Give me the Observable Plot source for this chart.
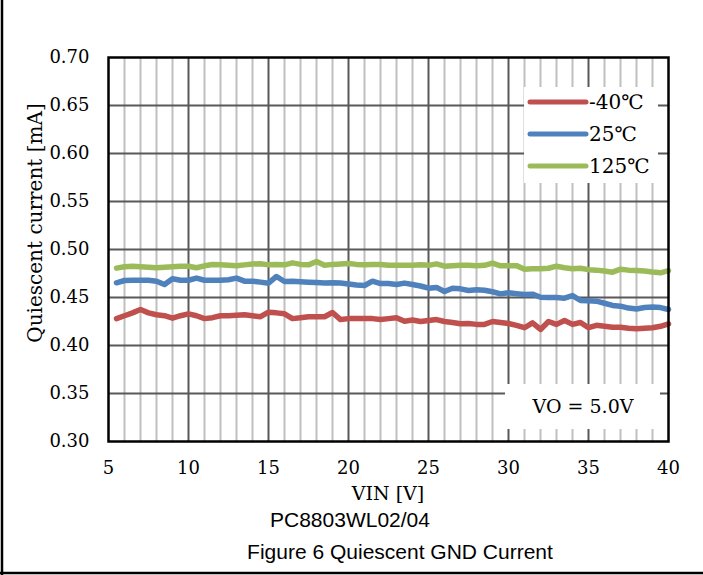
<!DOCTYPE html>
<html>
<head>
<meta charset="utf-8">
<script src="https://cdn.jsdelivr.net/npm/d3@7"></script>
<script src="https://cdn.jsdelivr.net/npm/@observablehq/plot@0.6"></script>
<style>
  html, body { margin: 0; padding: 0; background: #fff; }
  #chart svg { display: block; }
</style>
</head>
<body>
<div id="chart"></div>
<script>
// Input voltage sweep [V]
const vin = [
  5.5, 6, 6.5, 7, 7.5, 8, 8.5, 9, 9.5, 10,
  10.5, 11, 11.5, 12, 12.5, 13, 13.5, 14, 14.5, 15,
  15.5, 16, 16.5, 17, 17.5, 18, 18.5, 19, 19.5, 20,
  20.5, 21, 21.5, 22, 22.5, 23, 23.5, 24, 24.5, 25,
  25.5, 26, 26.5, 27, 27.5, 28, 28.5, 29, 29.5, 30,
  30.5, 31, 31.5, 32, 32.5, 33, 33.5, 34, 34.5, 35,
  35.5, 36, 36.5, 37, 37.5, 38, 38.5, 39, 39.5, 40
];

// Quiescent GND current [mA] at each temperature
const iqCold = [
  0.428, 0.431, 0.434, 0.4375, 0.434, 0.432, 0.431, 0.4285, 0.431, 0.433,
  0.431, 0.428, 0.429, 0.431, 0.431, 0.4315, 0.432, 0.431, 0.430, 0.4347,
  0.434, 0.433, 0.428, 0.429, 0.430, 0.430, 0.430, 0.4344, 0.427, 0.428,
  0.428, 0.428, 0.428, 0.427, 0.428, 0.429, 0.4253, 0.4265, 0.425, 0.426,
  0.427, 0.425, 0.424, 0.4226, 0.423, 0.422, 0.422, 0.425, 0.424, 0.423,
  0.421, 0.4185, 0.4236, 0.4167, 0.425, 0.422, 0.426, 0.422, 0.424, 0.4185,
  0.421, 0.420, 0.419, 0.419, 0.418, 0.4175, 0.418, 0.4185, 0.420, 0.4226
];
const iqRoom = [
  0.4653, 0.4677, 0.468, 0.468, 0.468, 0.467, 0.4635, 0.4695, 0.468, 0.468,
  0.4702, 0.468, 0.468, 0.468, 0.4685, 0.4702, 0.467, 0.467, 0.466, 0.4649,
  0.4719, 0.4667, 0.467, 0.4665, 0.466, 0.4655, 0.465, 0.4653, 0.465, 0.464,
  0.463, 0.4625, 0.467, 0.4645, 0.4645, 0.4635, 0.465, 0.4635, 0.462, 0.4597,
  0.4605, 0.4562, 0.4597, 0.459, 0.4573, 0.458, 0.4575, 0.456, 0.4538, 0.455,
  0.454, 0.4531, 0.4535, 0.4503, 0.450, 0.450, 0.4493, 0.452, 0.4469, 0.4465,
  0.4462, 0.444, 0.4417, 0.441, 0.439, 0.438, 0.4395, 0.440, 0.4395, 0.4375
];
const iqHot = [
  0.4806, 0.482, 0.4826, 0.482, 0.4815, 0.481, 0.4815, 0.482, 0.4826, 0.4826,
  0.481, 0.483, 0.4844, 0.484, 0.4835, 0.483, 0.484, 0.485, 0.4851, 0.484,
  0.4845, 0.484, 0.4861, 0.4845, 0.484, 0.4875, 0.4835, 0.4845, 0.485, 0.4855,
  0.4845, 0.484, 0.4845, 0.4844, 0.4835, 0.4835, 0.4835, 0.4835, 0.484, 0.4835,
  0.485, 0.4826, 0.483, 0.4835, 0.4835, 0.483, 0.4835, 0.4858, 0.483, 0.483,
  0.4832, 0.4795, 0.480, 0.480, 0.4805, 0.4826, 0.481, 0.480, 0.4805, 0.479,
  0.4785, 0.4775, 0.4764, 0.4795, 0.4785, 0.478, 0.4775, 0.4765, 0.4757, 0.478
];

const seriesNames = ["-40℃", "25℃", "125℃"];
const seriesColors = ["#C0504D", "#4F81BD", "#9BBB59"];
const seriesValues = [iqCold, iqRoom, iqHot];

// Axis ticks and gridlines
const xTicks = [5, 10, 15, 20, 25, 30, 35, 40];
const xMajorGrid = [10, 15, 20, 25, 30, 35];
const xMinorGrid = [6, 7, 8, 9, 11, 12, 13, 14, 16, 17, 18, 19, 21, 22, 23, 24,
                    26, 27, 28, 29, 31, 32, 33, 34, 36, 37, 38, 39];
const yTicks = [0.30, 0.35, 0.40, 0.45, 0.50, 0.55, 0.60, 0.65, 0.70];
const yMajorGrid = [0.35, 0.40, 0.45, 0.50, 0.55, 0.60, 0.65];

const xLabel = "VIN [V]";
const yLabel = "Quiescent current [mA]";
const note = "VO = 5.0V";
const partLabel = "PC8803WL02/04";
const figureTitle = "Figure 6 Quiescent GND Current";

// Long-format rows for the line mark
const rows = seriesNames.flatMap((name, s) =>
  vin.map((v, i) => ({ series: name, vin: v, iq: seriesValues[s][i] }))
);

const W = 703, H = 575;
const serif = "'DejaVu Serif', serif";

const plot = Plot.plot({
  width: W,
  height: H,
  marginTop: 57,
  marginRight: 35,
  marginBottom: 134,
  marginLeft: 108,
  style: { fontFamily: serif, fontSize: "18px", background: "#fff", color: "#000" },
  x: { domain: [5, 40] },
  y: { domain: [0.30, 0.70] },
  color: { domain: seriesNames, range: seriesColors },
  marks: [
    Plot.ruleX(xMinorGrid, { stroke: "#bfbfbf", strokeWidth: 2 }),
    Plot.ruleX(xMajorGrid, { stroke: "#595959", strokeWidth: 2 }),
    Plot.ruleY(yMajorGrid, { stroke: "#595959", strokeWidth: 2 }),
    Plot.line(rows, {
      x: "vin", y: "iq", z: "series", stroke: "series",
      strokeWidth: 5.5, strokeLinecap: "round", strokeLinejoin: "round"
    }),
    Plot.frame({ stroke: "#000", strokeWidth: 2.5 }),
    Plot.axisX({ ticks: xTicks, tickSize: 0, tickPadding: 20, label: null,
                 fontSize: 18, fontFamily: serif }),
    Plot.axisY({ ticks: yTicks, tickSize: 0, tickPadding: 19, label: null,
                 tickFormat: d3.format(".2f"), fontSize: 18, fontFamily: serif })
  ]
});

document.getElementById("chart").appendChild(plot);

const svg = d3.select(plot);
const sx = plot.scale("x"), sy = plot.scale("y");
const [px0, px1] = sx.range;
const [py0, py1] = sy.range; // bottom, top

// Legend box (top-right corner of the plot area)
const legend = svg.append("g");
const lgX = px1 - 144, lgY = py1 + 30;
legend.append("rect")
  .attr("x", lgX).attr("y", lgY).attr("width", 134).attr("height", 96)
  .attr("fill", "#fff");
seriesNames.forEach((name, i) => {
  const cy = lgY + 15 + i * 32;
  legend.append("line")
    .attr("x1", lgX + 6).attr("x2", lgX + 62).attr("y1", cy).attr("y2", cy)
    .attr("stroke", seriesColors[i]).attr("stroke-width", 5)
    .attr("stroke-linecap", "round");
  legend.append("text")
    .attr("x", lgX + 65).attr("y", cy).attr("dy", "0.35em")
    .attr("text-anchor", "start")
    .attr("font-family", serif).attr("font-size", 20)
    .text(name);
});

// Operating-condition note (bottom-right of the plot area)
const noteG = svg.append("g");
noteG.append("rect")
  .attr("x", px1 - 163).attr("y", py0 - 57).attr("width", 155).attr("height", 45)
  .attr("fill", "#fff");
noteG.append("text")
  .attr("x", px1 - 85).attr("y", py0 - 35).attr("dy", "0.35em")
  .attr("text-anchor", "middle")
  .attr("font-family", serif).attr("font-size", 19)
  .text(note);

// Axis titles
svg.append("text")
  .attr("x", (px0 + px1) / 2).attr("y", py0 + 52).attr("dy", "0.35em")
  .attr("text-anchor", "middle")
  .attr("font-family", serif).attr("font-size", 19)
  .text(xLabel);
svg.append("text")
  .attr("transform", `translate(35, ${(py0 + py1) / 2 - 26}) rotate(-90)`)
  .attr("dy", "0.35em")
  .attr("text-anchor", "middle")
  .attr("font-family", serif).attr("font-size", 20)
  .text(yLabel);

// Captions
const sans = "'Liberation Sans', Arial, sans-serif";
svg.append("text")
  .attr("x", 350).attr("y", 520).attr("dy", "0.35em")
  .attr("text-anchor", "middle")
  .attr("font-family", sans).attr("font-size", 21)
  .text(partLabel);
svg.append("text")
  .attr("x", 400).attr("y", 552).attr("dy", "0.35em")
  .attr("text-anchor", "middle")
  .attr("font-family", sans).attr("font-size", 21)
  .text(figureTitle);

// Figure border (left and bottom edges)
svg.append("line").attr("x1", 2).attr("x2", 2).attr("y1", 0).attr("y2", H)
  .attr("stroke", "#000").attr("stroke-width", 2.5);
svg.append("line").attr("x1", 0).attr("x2", W).attr("y1", H - 2).attr("y2", H - 2)
  .attr("stroke", "#000").attr("stroke-width", 2.5);
</script>
</body>
</html>
